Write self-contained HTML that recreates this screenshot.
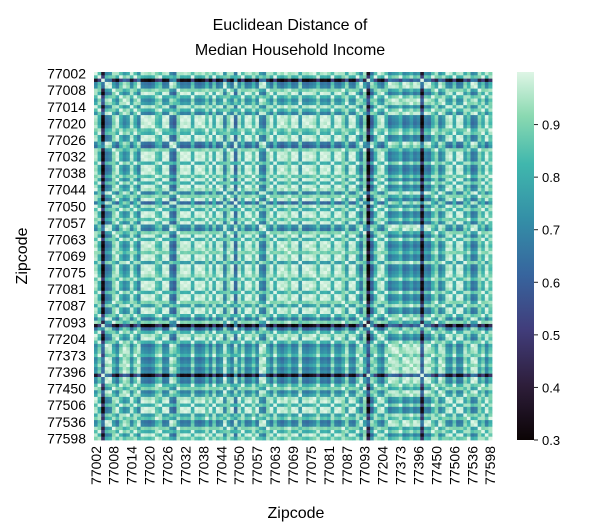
<!DOCTYPE html>
<html><head><meta charset="utf-8"><style>
body{margin:0;background:#fff;width:607px;height:532px;overflow:hidden;position:relative;font-family:"Liberation Sans",Arial,sans-serif;color:#222}
</style></head><body>
<svg id="s" width="607" height="532" xmlns="http://www.w3.org/2000/svg" style="position:absolute;left:0;top:0">
<defs><linearGradient id="cb" x1="0" y1="1" x2="0" y2="0">
<stop offset="0" stop-color="#0B0405"/><stop offset="0.15" stop-color="#2E1E3B"/><stop offset="0.3" stop-color="#413D7B"/><stop offset="0.45" stop-color="#37659E"/><stop offset="0.6" stop-color="#348FA7"/><stop offset="0.75" stop-color="#40B7AD"/><stop offset="0.88" stop-color="#8AD9B1"/><stop offset="1" stop-color="#DEF5E5"/></linearGradient></defs>
<text x="290" y="30" font-size="16" text-anchor="middle">Euclidean Distance of</text>
<text x="290" y="55" font-size="16" text-anchor="middle">Median Household Income</text>
<g id="cells"></g>
<g id="yt"></g>
<g id="xt"></g>
<text x="296" y="518" font-size="16" text-anchor="middle">Zipcode</text>
<text transform="translate(27,256) rotate(-90)" font-size="16" text-anchor="middle">Zipcode</text>
<rect x="517" y="72" width="17" height="368" fill="url(#cb)"/>
<g id="ct"></g>
</svg>
<script>
const zipLabels=["77002","77008","77014","77020","77026","77032","77038","77044","77050","77057","77063","77069","77075","77081","77087","77093","77204","77373","77396","77450","77506","77536","77598"];
const income=[.15,.3,.78,.45,.42,.2,.1,.3,.4,.35,.14,.3,.42,.12,.1,.08,.12,.25,.3,.1,.12,.45,.5,.2,.1,.12,.1,.3,.1,.08,.12,.25,.1,.3,.1,.15,.42,.2,.1,.48,.15,.3,.1,.12,.25,.1,.4,.45,.2,.1,.3,.12,.08,.14,.22,.1,.12,.35,.1,.08,.12,.15,.28,.1,.12,.08,.3,.12,.1,.2,.35,.12,.1,.3,.45,.2,.8,.5,.3,.15,.1,.3,.45,.4,.38,.3,.45,.42,.35,.44,.4,.78,.42,.45,.3,.2,.42,.35,.15,.12,.3,.1,.12,.35,.25,.45,.42,.2,.3,.12,.25];
const cbTicks=[0.3,0.4,0.5,0.6,0.7,0.8,0.9];
const vmin=0.3,vmax=1.0;
const N=income.length,X0=94,Y0=72,W=398,H=368,cw=W/N,ch=H/N;
const stops=[[0,"0B0405"],[.15,"2E1E3B"],[.3,"413D7B"],[.45,"37659E"],[.6,"348FA7"],[.75,"40B7AD"],[.88,"8AD9B1"],[1,"DEF5E5"]];
function col(v){let t=Math.max(0,Math.min(1,(v-vmin)/(vmax-vmin)));for(let i=1;i<stops.length;i++){if(t<=stops[i][0]){const a=stops[i-1],b=stops[i],f=(t-a[0])/(b[0]-a[0]);const c=k=>Math.round(parseInt(a[1].substr(k,2),16)*(1-f)+parseInt(b[1].substr(k,2),16)*f);return`rgb(${c(0)},${c(2)},${c(4)})`;}}return"#DEF5E5";}
const NS="http://www.w3.org/2000/svg";
const g=document.getElementById('cells');
let html="";
for(let i=0;i<N;i++)for(let j=0;j<N;j++){const s=Math.max(vmin,1-Math.abs(income[i]-income[j])*1.0);
html+=`<rect x="${(X0+j*cw).toFixed(2)}" y="${(Y0+i*ch).toFixed(2)}" width="${(cw+0.4).toFixed(2)}" height="${(ch+0.4).toFixed(2)}" fill="${col(s)}"/>`;}
g.innerHTML=html;
const yt=document.getElementById('yt'),xt=document.getElementById('xt');
zipLabels.forEach((z,k)=>{const r=k*5;const y=Y0+(r+0.5)*ch,x=X0+(r+0.5)*cw;
const t=document.createElementNS(NS,'text');t.setAttribute('x',86);t.setAttribute('y',y+5);t.setAttribute('font-size','14');t.setAttribute('text-anchor','end');t.textContent=z;


yt.appendChild(t);
const t2=document.createElementNS(NS,'text');t2.setAttribute('transform',`translate(${x+5},446) rotate(-90)`);t2.setAttribute('font-size','14');t2.setAttribute('text-anchor','end');t2.textContent=z;


xt.appendChild(t2);
});
const ct=document.getElementById('ct');
cbTicks.forEach(v=>{const y=Y0+H-(v-vmin)/(vmax-vmin)*H;
const l=document.createElementNS(NS,'line');l.setAttribute('x1',534);l.setAttribute('x2',538);l.setAttribute('y1',y);l.setAttribute('y2',y);l.setAttribute('stroke','#222');ct.appendChild(l);
const t=document.createElementNS(NS,'text');t.setAttribute('x',542);t.setAttribute('y',y+5);t.setAttribute('font-size','13');t.textContent=v.toFixed(1);


ct.appendChild(t);});
</script>
</body></html>
